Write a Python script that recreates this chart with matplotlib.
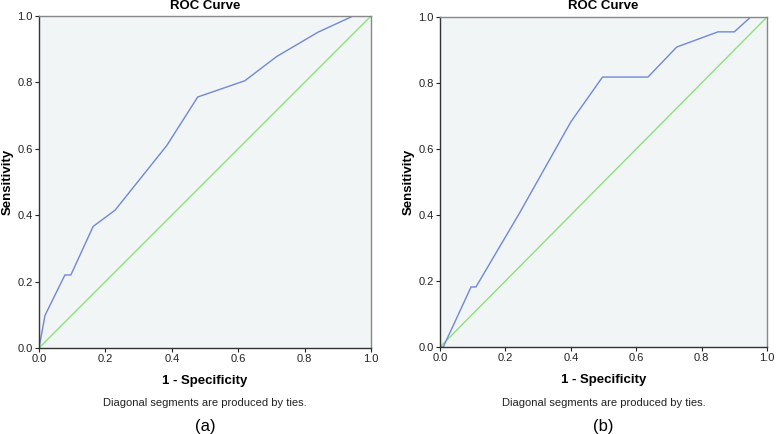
import matplotlib.pyplot as plt

plt.rcParams['font.family'] = ['Liberation Sans', 'DejaVu Sans']

# ROC curve (a)
fpr_a = [0, 0.018, 0.078, 0.096, 0.163, 0.229, 0.385, 0.478, 0.62, 0.716, 0.84, 0.946, 1.0]
tpr_a = [0, 0.098, 0.22, 0.22, 0.366, 0.415, 0.61, 0.756, 0.805, 0.878, 0.951, 1.0, 1.0]

# ROC curve (b)
fpr_b = [0, 0.01, 0.095, 0.11, 0.245, 0.40, 0.497, 0.636, 0.724, 0.85, 0.9, 0.95, 1.0]
tpr_b = [0, 0, 0.182, 0.182, 0.409, 0.682, 0.818, 0.818, 0.909, 0.955, 0.955, 1.0, 1.0]

ticks = [0.0, 0.2, 0.4, 0.6, 0.8, 1.0]
tick_labels = ['0.0', '0.2', '0.4', '0.6', '0.8', '1.0']

W, H = 777, 434
fig = plt.figure(figsize=(W / 100, H / 100), dpi=100)

panels = [
    (fpr_a, tpr_a, (39, 16, 332, 332), '(a)'),
    (fpr_b, tpr_b, (440, 17, 327, 330), '(b)'),
]

for fpr, tpr, (px, py, pw, ph), tag in panels:
    ax = fig.add_axes([px / W, 1 - (py + ph) / H, pw / W, ph / H])
    ax.set_facecolor('#f1f5f6')
    ax.plot([0, 1], [0, 1], color='#8ee07a', lw=1.0)
    ax.plot(fpr, tpr, color='#7088d8', lw=1.0)
    ax.set_xlim(0, 1)
    ax.set_ylim(0, 1)
    ax.set_xticks(ticks)
    ax.set_yticks(ticks)
    ax.set_xticklabels(tick_labels, fontsize=8, color='#222222')
    ax.set_yticklabels(tick_labels, fontsize=8, color='#222222')
    ax.tick_params(length=3, width=0.8, pad=1.5, colors='#222222')
    for s in ['left', 'bottom']:
        ax.spines[s].set_color('#333333')
        ax.spines[s].set_linewidth(1.0)
    for s in ['top', 'right']:
        ax.spines[s].set_color('#888888')
        ax.spines[s].set_linewidth(1.0)
    ax.set_xlabel('1 - Specificity', fontsize=9.5, fontweight='bold', labelpad=8)
    ax.set_ylabel('Sensitivity', fontsize=9.5, fontweight='bold', labelpad=3)
    cx = (px + pw / 2) / W
    fig.text(cx, 1 - 6 / H, 'ROC Curve', fontsize=9.5, fontweight='bold',
             ha='center', va='center')
    fig.text(cx, 1 - 403 / H, 'Diagonal segments are produced by ties.',
             fontsize=8, ha='center', va='center', color='#222222')
    fig.text(cx, 1 - 426 / H, tag, fontsize=12, ha='center', va='center')

fig.savefig('out.png', dpi=100)
